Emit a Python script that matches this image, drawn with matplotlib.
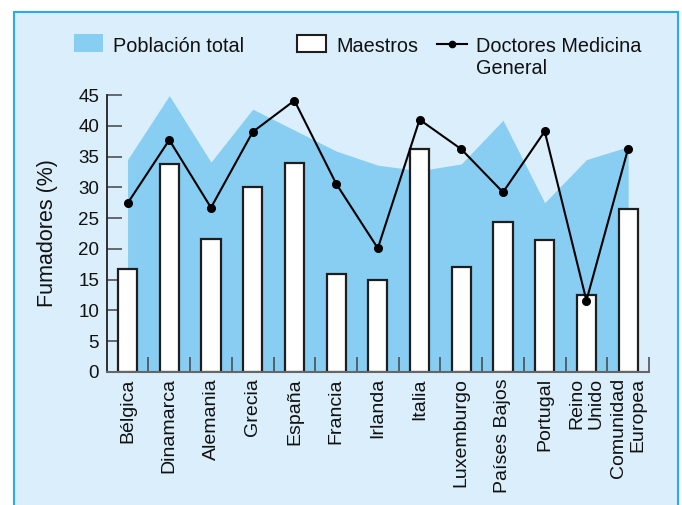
import matplotlib
matplotlib.use("Agg")
import matplotlib.pyplot as plt
from matplotlib.patches import Rectangle
from matplotlib.lines import Line2D
import numpy as np

plt.rcParams['font.family'] = ['Liberation Sans', 'DejaVu Sans']

# Smokers (%) by country
paises = ["Bélgica", "Dinamarca", "Alemania", "Grecia", "España", "Francia",
          "Irlanda", "Italia", "Luxemburgo", "Países Bajos", "Portugal",
          "Reino\nUnido", "Comunidad\nEuropea"]
poblacion_total = [34.5, 44.9, 34.1, 42.7, 39.3, 35.9, 33.6, 32.7, 33.8, 40.9, 27.5, 34.5, 36.6]
maestros = [16.7, 33.8, 21.6, 30.0, 34.0, 15.9, 14.9, 36.2, 17.1, 24.3, 21.5, 12.5, 26.5]
doctores = [27.4, 37.7, 26.7, 39.0, 44.1, 30.6, 20.1, 41.0, 36.2, 29.2, 39.1, 11.6, 36.3]
y_ticks = [0, 5, 10, 15, 20, 25, 30, 35, 40, 45]

W, H = 682, 505
fig = plt.figure(figsize=(W / 100, H / 100), dpi=100)
fig.patch.set_facecolor("white")

panel_bg = "#dbeefb"
area_col = "#88cdf2"
edge_col = "#1e1e1e"

# Light-blue panel with a bright blue frame
fig.patches.append(Rectangle((14 / W, -0.05), (678 - 14) / W, 1 - 12 / H + 0.05,
                             transform=fig.transFigure, facecolor=panel_bg,
                             edgecolor="#22aeee", linewidth=1.5, zorder=-5))

ax = fig.add_axes([106.7 / W, 133 / H, (649 - 106.7) / W, (372 - 95) / H])
ax.set_facecolor("none")

x = np.arange(len(paises))
ax.fill_between(x, 0, poblacion_total, color=area_col, linewidth=0, zorder=1)
ax.bar(x, maestros, width=0.46, facecolor="white", edgecolor=edge_col,
       linewidth=1.6, zorder=2)
ax.plot(x, doctores, color="black", linewidth=1.5, marker="o", markersize=5.5,
        zorder=3)

ax.set_xlim(-0.5, len(paises) - 0.5)
ax.set_ylim(0, 45)
ax.set_yticks(y_ticks)
ax.set_yticklabels([str(v) for v in y_ticks])

ax.set_xticks(x)
ax.set_xticklabels(paises, rotation=90)
for lbl in ax.get_xticklabels():
    lbl.set_multialignment("right")
ax.set_xticks(np.arange(len(paises)) + 0.5, minor=True)

ax.tick_params(axis="x", which="major", length=0, pad=4.5, labelsize=14,
               labelcolor="#111111")
ax.tick_params(axis="x", which="minor", direction="in", length=10.8,
               width=1.1, color="#444444")
ax.tick_params(axis="y", which="major", direction="in", length=10.8,
               width=1.1, color="#444444", pad=5.5, labelsize=13.5,
               labelcolor="#111111")

for side in ("top", "right"):
    ax.spines[side].set_visible(False)
ax.spines["left"].set_color("#222222")
ax.spines["left"].set_linewidth(1.3)
ax.spines["bottom"].set_color("#666666")
ax.spines["bottom"].set_linewidth(1.5)

ax.set_ylabel("Fumadores (%)", fontsize=15.5, color="#111111", va="center")
ax.yaxis.set_label_coords(-0.110, 0.502)

# Legend drawn in figure pixel units
def fx(px):
    return px / W

def fy(py):
    return 1 - py / H

fig.patches.append(Rectangle((fx(74), fy(52)), 29 / W, 18 / H,
                             transform=fig.transFigure, facecolor=area_col,
                             edgecolor="none", zorder=3))
fig.text(fx(113), fy(51.5), "Población total", fontsize=14.3, va="baseline",
         color="#111111")
fig.patches.append(Rectangle((fx(297), fy(52)), 29 / W, 17 / H,
                             transform=fig.transFigure, facecolor="white",
                             edgecolor=edge_col, linewidth=1.5, zorder=3))
fig.text(fx(336), fy(51.5), "Maestros", fontsize=14.3, va="baseline",
         color="#111111")
fig.lines.append(Line2D([fx(437), fx(467)], [fy(44), fy(44)],
                        transform=fig.transFigure, color="black", linewidth=1.5))
fig.lines.append(Line2D([fx(452)], [fy(44)], transform=fig.transFigure,
                        color="black", marker="o", markersize=4.5, linestyle="none"))
fig.text(fx(476), fy(51.5), "Doctores Medicina", fontsize=14.3, va="baseline",
         color="#111111")
fig.text(fx(476), fy(74), "General", fontsize=14.3, va="baseline",
         color="#111111")

fig.savefig("out.png", dpi=100)
